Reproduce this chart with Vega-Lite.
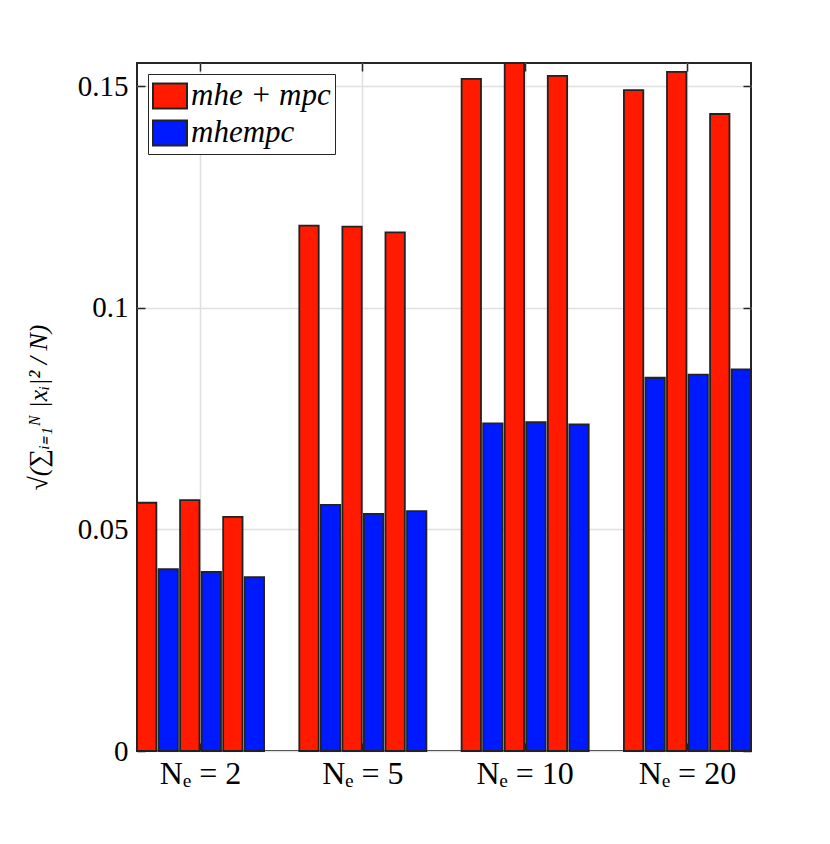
{
  "$schema": "https://vega.github.io/schema/vega-lite/v6.json",
  "width": 614,
  "height": 688,
  "autosize": "none",
  "padding": {"left": 137, "top": 63, "right": 79, "bottom": 93},
  "background": "white",
  "data": {
    "values": [
      {"group": "Nₑ = 2", "bar": 1, "method": "mhe + mpc", "value": 0.0560},
      {"group": "Nₑ = 2", "bar": 2, "method": "mhempc", "value": 0.0410},
      {"group": "Nₑ = 2", "bar": 3, "method": "mhe + mpc", "value": 0.0566},
      {"group": "Nₑ = 2", "bar": 4, "method": "mhempc", "value": 0.0404},
      {"group": "Nₑ = 2", "bar": 5, "method": "mhe + mpc", "value": 0.0528},
      {"group": "Nₑ = 2", "bar": 6, "method": "mhempc", "value": 0.0392},
      {"group": "Nₑ = 5", "bar": 1, "method": "mhe + mpc", "value": 0.1185},
      {"group": "Nₑ = 5", "bar": 2, "method": "mhempc", "value": 0.0555},
      {"group": "Nₑ = 5", "bar": 3, "method": "mhe + mpc", "value": 0.1183},
      {"group": "Nₑ = 5", "bar": 4, "method": "mhempc", "value": 0.0535},
      {"group": "Nₑ = 5", "bar": 5, "method": "mhe + mpc", "value": 0.1170},
      {"group": "Nₑ = 5", "bar": 6, "method": "mhempc", "value": 0.0541},
      {"group": "Nₑ = 10", "bar": 1, "method": "mhe + mpc", "value": 0.1516},
      {"group": "Nₑ = 10", "bar": 2, "method": "mhempc", "value": 0.0739},
      {"group": "Nₑ = 10", "bar": 3, "method": "mhe + mpc", "value": 0.1552},
      {"group": "Nₑ = 10", "bar": 4, "method": "mhempc", "value": 0.0742},
      {"group": "Nₑ = 10", "bar": 5, "method": "mhe + mpc", "value": 0.1523},
      {"group": "Nₑ = 10", "bar": 6, "method": "mhempc", "value": 0.0737},
      {"group": "Nₑ = 20", "bar": 1, "method": "mhe + mpc", "value": 0.1491},
      {"group": "Nₑ = 20", "bar": 2, "method": "mhempc", "value": 0.0842},
      {"group": "Nₑ = 20", "bar": 3, "method": "mhe + mpc", "value": 0.1532},
      {"group": "Nₑ = 20", "bar": 4, "method": "mhempc", "value": 0.0849},
      {"group": "Nₑ = 20", "bar": 5, "method": "mhe + mpc", "value": 0.1437},
      {"group": "Nₑ = 20", "bar": 6, "method": "mhempc", "value": 0.0861}
    ]
  },
  "layer": [
    {
      "mark": {"type": "bar", "stroke": "#222222", "strokeWidth": 1.8},
      "encoding": {
        "x": {
          "field": "group", "type": "nominal",
          "scale": {"domain": ["Nₑ = 2", "Nₑ = 5", "Nₑ = 10", "Nₑ = 20"], "paddingInner": 0.217, "paddingOuter": 0},
          "axis": {"orient": "bottom", "title": null, "grid": true, "bandPosition": 0.5, "labelAngle": 0, "labelPadding": 15, "labelFontSize": 32}
        },
        "xOffset": {
          "field": "bar", "type": "ordinal",
          "scale": {"paddingInner": 0.1, "paddingOuter": 0}
        },
        "y": {
          "field": "value", "type": "quantitative",
          "scale": {"domain": [0, 0.1552], "nice": false},
          "axis": {
            "orient": "left", "values": [0, 0.05, 0.1, 0.15], "format": "~g", "grid": true,
            "labelPadding": 17, "labelFontSize": 29,
            "title": "√(∑ᵢ₌₁ᴺ |xᵢ|² / N)",
            "titleFont": "Liberation Serif", "titleFontStyle": "italic", "titleFontSize": 26,
            "titleFontWeight": "normal", "titleColor": "black", "titlePadding": 26
          }
        },
        "color": {
          "field": "method", "type": "nominal",
          "scale": {"domain": ["mhe + mpc", "mhempc"], "range": ["#ff1a00", "#001aff"]},
          "legend": {
            "orient": "top-left", "offset": 11, "title": null,
            "strokeColor": "#262626", "fillColor": "white",
            "padding": 4, "rowPadding": 2, "cornerRadius": 0,
            "symbolType": "M-1,-0.735H1V0.735H-1Z", "symbolSize": 1156,
            "symbolStrokeColor": "#222222", "symbolStrokeWidth": 2, "symbolOpacity": 1,
            "labelFont": "Liberation Serif", "labelFontStyle": "italic", "labelFontSize": 31,
            "labelColor": "black", "labelOffset": 3
          }
        }
      }
    },
    {
      "mark": {"type": "bar", "opacity": 0},
      "encoding": {
        "x": {
          "field": "group", "type": "nominal",
          "axis": {"orient": "top", "title": null, "labels": false, "grid": false, "bandPosition": 0.5}
        },
        "y": {
          "field": "value", "type": "quantitative",
          "axis": {"orient": "right", "title": null, "labels": false, "grid": false, "values": [0, 0.05, 0.1, 0.15]}
        }
      }
    }
  ],
  "resolve": {"axis": {"x": "independent", "y": "independent"}},
  "config": {
    "view": {"stroke": "#262626", "strokeWidth": 2},
    "axis": {
      "domain": false,
      "labelFont": "Liberation Serif", "labelFontSize": 27, "labelColor": "black",
      "tickColor": "#262626", "tickWidth": 1.5, "tickSize": -8,
      "gridColor": "#e0e0e0", "gridWidth": 1.5
    }
  }
}
